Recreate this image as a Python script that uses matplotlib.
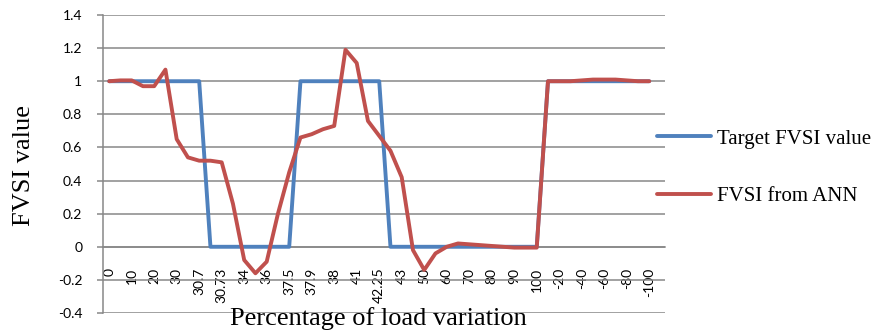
import matplotlib
matplotlib.use('Agg')
import matplotlib.pyplot as plt

# labels shown on the x axis (every other category is labelled)
x_labels = ['0', '10', '20', '30', '30.7', '30.73', '34', '36', '37.5', '37.9', '38', '41',
            '42.25', '43', '50', '60', '70', '80', '90', '100', '-20', '-40', '-60', '-80', '-100']

target_fvsi = [1, 1, 1, 1, 1, 1, 1, 1, 1,
               0, 0, 0, 0, 0, 0, 0, 0,
               1, 1, 1, 1, 1, 1, 1, 1,
               0, 0, 0, 0, 0, 0, 0, 0, 0, 0, 0, 0, 0, 0,
               1, 1, 1, 1, 1, 1, 1, 1, 1, 1]

ann_fvsi = [1.0, 1.005, 1.005, 0.97, 0.97, 1.07, 0.65, 0.54, 0.52, 0.52,
            0.51, 0.26, -0.08, -0.16, -0.09, 0.20, 0.45, 0.66, 0.68, 0.71,
            0.73, 1.19, 1.11, 0.76, 0.67, 0.58, 0.42, -0.02, -0.14, -0.04,
            0.0, 0.02, 0.015, 0.01, 0.005, 0.0, -0.005, -0.005, -0.005, 1.0,
            1.0, 1.0, 1.005, 1.01, 1.01, 1.01, 1.005, 1.0, 1.0]

grey = '#878787'
serif = 'Liberation Serif'

fig = plt.figure(figsize=(8.74, 3.33), dpi=100)
ax = fig.add_axes([103 / 874, 1 - 313 / 333, (665 - 103) / 874, (313 - 15) / 333])

# spine position first: moving it resets the tick label styling
for s in ['top', 'right']:
    ax.spines[s].set_visible(False)
ax.spines['left'].set_color(grey)
ax.spines['left'].set_linewidth(1.1)
ax.spines['bottom'].set_position(('data', 0))
ax.spines['bottom'].set_color(grey)
ax.spines['bottom'].set_linewidth(1.1)

x = list(range(len(ann_fvsi)))
ax.plot(x, target_fvsi, color='#4F81BD', lw=2.8, solid_joinstyle='round',
        solid_capstyle='round', label='Target FVSI value', zorder=3)
ax.plot(x, ann_fvsi, color='#C0504D', lw=2.8, solid_joinstyle='round',
        solid_capstyle='round', label='FVSI from ANN', zorder=4)

ax.set_ylim(-0.4, 1.4)
ax.set_xlim(-0.55, 49.4)
yt = [-0.4, -0.2, 0, 0.2, 0.4, 0.6, 0.8, 1, 1.2, 1.4]
ax.set_yticks(yt)
ax.set_yticklabels(['-0.4', '-0.2', '0', '0.2', '0.4', '0.6', '0.8', '1', '1.2', '1.4'],
                   fontfamily='Lato', fontsize=10)
ax.grid(axis='y', color=grey, lw=1.1)
ax.set_axisbelow(True)

ax.set_xticks(list(range(0, len(ann_fvsi), 2)))
ax.set_xticklabels(x_labels, rotation=90, fontfamily='Lato', fontsize=10, va='top')
ax.tick_params(axis='x', length=0, pad=15)
ax.tick_params(axis='y', length=4, width=1.1, color=grey, pad=11)

fig.text(24 / 874, 1 - 165 / 333, 'FVSI value', rotation=90, ha='center', va='center',
         fontfamily=serif, fontsize=19)
fig.text(378 / 874, 8 / 333, 'Percentage of load variation', ha='center', va='baseline',
         fontfamily=serif, fontsize=19)

fig.legend(loc='center left', bbox_to_anchor=(657 / 874, 1 - 167.5 / 333), frameon=False,
           prop={'family': serif, 'size': 15}, handlelength=2.6, handletextpad=0.3,
           labelspacing=1.8, borderpad=0, borderaxespad=0)

fig.savefig('out.png', dpi=100)
